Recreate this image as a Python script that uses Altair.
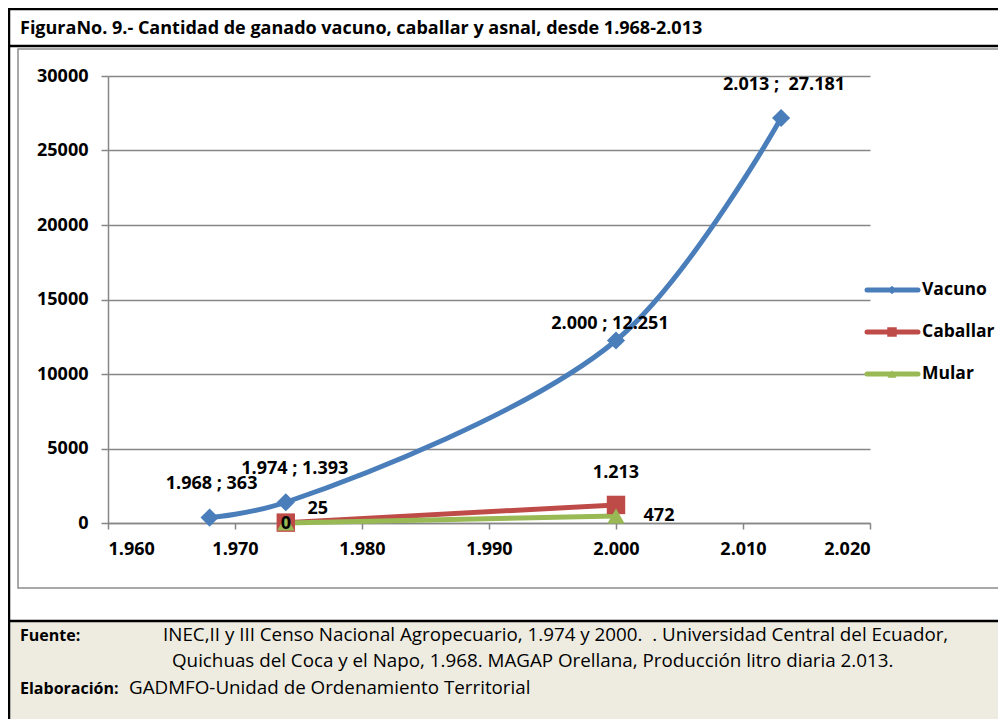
import altair as alt
import pandas as pd

# ---------------- data ----------------
vac_years = [1968, 1974, 2000, 2013]
vac_values = [363, 1393, 12251, 27181]
vac_labels = ["1.968 ; 363", "1.974 ; 1.393", "2.000 ; 12.251", "2.013 ;\u00a0 27.181"]

cab_years = [1974, 2000]
cab_values = [25, 1213]
cab_labels = ["25", "1.213"]

mul_years = [1974, 2000]
mul_values = [0, 472]
mul_labels = ["0", "472"]

series_names = ["Vacuno", "Caballar", "Mular"]
series_colors = ["#4A7EBB", "#BE4B48", "#98B954"]

x_ticks = [1960, 1970, 1980, 1990, 2000, 2010, 2020]
y_ticks = [0, 5000, 10000, 15000, 20000, 25000, 30000]

title_text = "FiguraNo. 9.- Cantidad de ganado vacuno, caballar y asnal, desde 1.968-2.013"
fuente_lbl = "Fuente:"
fuente_l1 = "INEC,II y III Censo Nacional Agropecuario, 1.974 y 2000.\u00a0 . Universidad Central del Ecuador,"
fuente_l2 = "Quichuas del Coca y el Napo, 1.968. MAGAP Orellana, Producción litro diaria 2.013."
elab_lbl = "Elaboración:"
elab_txt = "GADMFO-Unidad de Ordenamiento Territorial"

FONT = "Open Sans"

df_v = pd.DataFrame({"year": vac_years, "value": vac_values, "label": vac_labels})
df_c = pd.DataFrame({"year": cab_years, "value": cab_values, "label": cab_labels})
df_m = pd.DataFrame({"year": mul_years, "value": mul_values, "label": mul_labels})
one = pd.DataFrame({"k": [0]})

W, H = 762, 447

X = alt.X("year:Q",
          scale=alt.Scale(domain=[1960, 2020], nice=False, zero=False),
          axis=alt.Axis(values=x_ticks, title=None, grid=False,
                        labelExpr="replace(format(datum.value, ','), ',', '.')",
                        tickSize=6, labelPadding=11))
Y = alt.Y("value:Q",
          scale=alt.Scale(domain=[0, 30000], nice=False),
          axis=alt.Axis(values=y_ticks, title=None, grid=True, format="d",
                        tickSize=7, labelPadding=13))

# ------------- decoration (frames, title, footer) -------------
def rule(x1, x2, y1, y2, color, width):
    return alt.Chart(one).mark_rule(color=color, strokeWidth=width).encode(
        x=alt.value(x1), x2=alt.value(x2), y=alt.value(y1), y2=alt.value(y2))

def txt(s, x, y, size, weight="normal", align="left"):
    return alt.Chart(one).mark_text(text=s, font=FONT, fontSize=size, fontWeight=weight,
                                    align=align, baseline="alphabetic", color="black").encode(
        x=alt.value(x), y=alt.value(y))

footer_bg = alt.Chart(one).mark_rect(color="#EEECE1").encode(
    x=alt.value(-100), x2=alt.value(890), y=alt.value(545), y2=alt.value(643))
chart_box = alt.Chart(one).mark_rect(fillOpacity=0, stroke="#8C8C8C", strokeWidth=1.5).encode(
    x=alt.value(-90), x2=alt.value(900), y=alt.value(-27), y2=alt.value(512))

deco = [
    footer_bg,
    chart_box,
    rule(-99, -99, -68, 643, "black", 2.5),
    rule(-100, 890, -67, -67, "black", 2.5),
    rule(-100, 890, -30, -30, "black", 2.5),
    rule(-100, 890, 545, 545, "black", 2.5),
    txt(title_text, -88, -42, 18, "bold"),
    txt(fuente_lbl, -88, 565, 16, "bold"),
    txt(fuente_l1, 55, 565, 18.8),
    txt(fuente_l2, 64, 591, 18.8),
    txt(elab_lbl, -88, 618, 16, "bold"),
    txt(elab_txt, 21, 618, 18.8),
]

# ------------- series -------------
line_v = alt.Chart(df_v).mark_line(color=series_colors[0], strokeWidth=5,
                                   interpolate="catmull-rom").encode(x=X, y=Y)
line_c = alt.Chart(df_c).mark_line(color=series_colors[1], strokeWidth=5).encode(x=X, y=Y)
line_m = alt.Chart(df_m).mark_line(color=series_colors[2], strokeWidth=5).encode(x=X, y=Y)

pt_v = alt.Chart(df_v).mark_point(shape="diamond", filled=True, opacity=1,
                                  color=series_colors[0], size=330).encode(x=X, y=Y)
pt_c = alt.Chart(df_c).mark_point(shape="square", filled=True, opacity=1,
                                  color=series_colors[1], size=340).encode(x=X, y=Y)
pt_m = alt.Chart(df_m).mark_point(shape="triangle-up", filled=True, opacity=1,
                                  color=series_colors[2], size=300).encode(x=X, y=Y)

def lab(df, i, dx, dy):
    return alt.Chart(df.iloc[[i]]).mark_text(font=FONT, fontSize=18, fontWeight="bold",
                                             color="black", dx=dx, dy=dy,
                                             baseline="middle").encode(x=X, y=Y, text="label:N")

labels = [
    lab(df_v, 0, 2, -34),
    lab(df_v, 1, 9, -33),
    lab(df_v, 2, -6, -16),
    lab(df_v, 3, 3, -33),
    lab(df_c, 0, 32, -14),
    lab(df_c, 1, 0, -32),
    lab(df_m, 0, 0, 1),
    lab(df_m, 1, 43, 0),
]

# ------------- legend -------------
leg = []
shapes = ["diamond", "square", "triangle-up"]
sizes = [70, 90, 80]
for i, (name, col) in enumerate(zip(series_names, series_colors)):
    yy = 214 + 42 * i
    leg.append(alt.Chart(one).mark_rule(color=col, strokeWidth=5, strokeCap="round").encode(
        x=alt.value(759), x2=alt.value(810), y=alt.value(yy), y2=alt.value(yy)))
    leg.append(alt.Chart(one).mark_point(shape=shapes[i], filled=True, opacity=1, color=col,
                                         size=sizes[i]).encode(x=alt.value(784), y=alt.value(yy)))
    leg.append(alt.Chart(one).mark_text(text=name, font=FONT, fontSize=17.5, fontWeight="bold",
                                        align="left", baseline="middle", color="black").encode(
        x=alt.value(814), y=alt.value(yy)))

chart = alt.layer(
    *deco, line_v, line_c, line_m, pt_v, pt_c, pt_m, *labels, *leg
).properties(
    width=W, height=H,
    autosize=alt.AutoSizeParams(type="none"),
    padding={"left": 100, "top": 68, "right": 128, "bottom": 196},
).configure_view(stroke=None).configure_axis(
    domainColor="#868686", tickColor="#868686", gridColor="#868686",
    domainWidth=1.5, tickWidth=1.5, gridWidth=1.5,
    labelFont=FONT, labelFontSize=18, labelFontWeight="bold", labelColor="black",
)

chart.save("out.html", embed_options={"renderer": "svg", "actions": False})
